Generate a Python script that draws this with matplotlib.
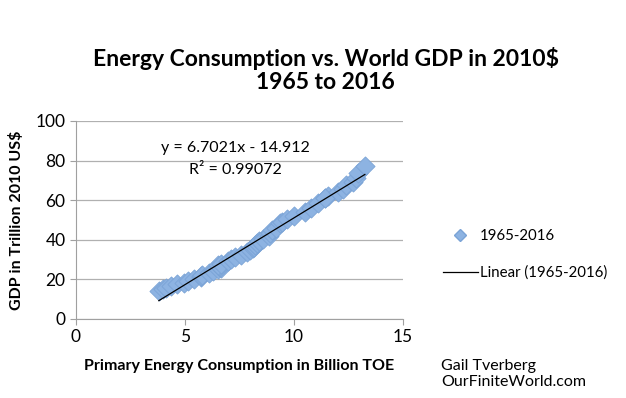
import numpy as np
import matplotlib
matplotlib.use("Agg")
import matplotlib.pyplot as plt
from matplotlib.lines import Line2D

plt.rcParams["font.family"] = ["Lato", "DejaVu Sans"]

# World primary energy (billion TOE) and GDP (trillion 2010 US$), 1965-2016
years = list(range(1965, 2017))
energy = [3.80, 3.99, 4.13, 4.38, 4.65, 4.95, 5.15, 5.43, 5.74, 5.74,
          5.77, 6.08, 6.29, 6.51, 6.67, 6.60, 6.55, 6.53, 6.65, 6.95,
          7.13, 7.29, 7.55, 7.83, 7.99, 8.11, 8.17, 8.19, 8.30, 8.38,
          8.58, 8.83, 8.92, 8.97, 9.17, 9.38, 9.45, 9.67, 10.00, 10.50,
          10.80, 11.10, 11.40, 11.55, 11.40, 12.00, 12.25, 12.40, 12.70, 12.85,
          12.95, 13.25]
gdp = [14.2, 15.0, 15.6, 16.5, 17.5, 18.2, 19.0, 20.0, 21.3, 21.7,
       22.0, 23.1, 24.0, 25.0, 26.0, 26.5, 27.0, 27.2, 28.0, 29.3,
       30.3, 31.2, 32.3, 33.8, 35.0, 36.0, 36.6, 37.4, 38.2, 39.4,
       40.6, 42.0, 43.6, 44.7, 46.2, 48.3, 49.2, 50.4, 51.9, 54.2,
       56.2, 58.6, 61.0, 62.0, 61.2, 64.0, 65.9, 67.6, 69.4, 71.3,
       73.5, 77.5]

eq_text = "y = 6.7021x - 14.912"
r2_text = "R² = 0.99072"
series_label = "1965-2016"
trend_label = "Linear (1965-2016)"

fig = plt.figure(figsize=(6.26, 3.98), dpi=100)
ax = fig.add_axes([0.1214, 0.1985, 0.5224, 0.4975])

ax.scatter(energy, gdp, marker="D", s=95, color="#8DB3E2", edgecolors="#7AA3D6",
           linewidths=0.6, zorder=3)
coef = np.polyfit(energy, gdp, 1)
xs = np.array([min(energy), max(energy)])
ax.plot(xs, np.polyval(coef, xs), color="black", lw=0.9, zorder=4)

ax.set_xlim(0, 15)
ax.set_ylim(0, 100)
ax.set_xticks([0, 5, 10, 15])
ax.set_yticks(range(0, 101, 20))
ax.yaxis.grid(True, color="#b0b0b0", lw=0.9)
ax.set_axisbelow(True)
for s in ["top", "right"]:
    ax.spines[s].set_visible(False)
for s in ["left", "bottom"]:
    ax.spines[s].set_color("#a0a0a0")
ax.tick_params(colors="#a0a0a0", labelcolor="black", labelsize=12.5, length=4)

ax.text(7.3, 86.5, eq_text, ha="center", va="center", fontsize=11.5)
ax.text(7.3, 75.0, r2_text, ha="center", va="center", fontsize=11.5)

ax.set_xlabel("Primary Energy Consumption in Billion TOE", fontsize=11.5,
              fontweight="bold", labelpad=10)
ax.set_ylabel("GDP in Trillion 2010 US$", fontsize=11.5, fontweight="bold", labelpad=8)

fig.text(0.52, 0.825, "Energy Consumption vs. World GDP in 2010$\n1965 to 2016",
         ha="center", va="center", fontsize=16.5, fontweight="bold", linespacing=1.1)

handles = [Line2D([], [], marker="D", ls="none", color="#8DB3E2",
                  markeredgecolor="#7AA3D6", markersize=6.5),
           Line2D([], [], color="black", lw=0.9)]
fig.legend(handles, [series_label, trend_label], loc="center left",
           bbox_to_anchor=(0.708, 0.36), frameon=False, fontsize=10.8,
           labelspacing=1.5, handlelength=2.3, handletextpad=0.15,
           borderaxespad=0, borderpad=0)

fig.text(0.705, 0.06, "Gail Tverberg\nOurFiniteWorld.com", ha="left", va="center",
         fontsize=11.5, linespacing=1.2)

fig.savefig("out.png", dpi=100)
